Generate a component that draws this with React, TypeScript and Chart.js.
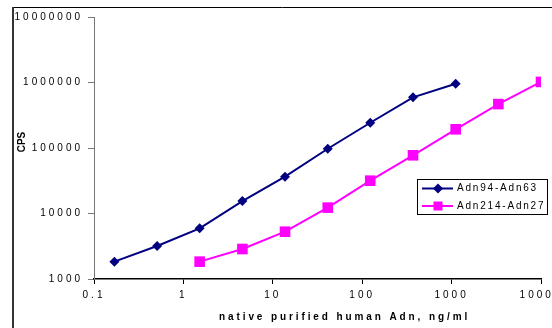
import React, { useEffect, useRef } from 'react';
import { Chart, registerables } from 'chart.js';

Chart.register(...registerables);

const seriesLabels = ['Adn94-Adn63', 'Adn214-Adn27'];
const concentrations94 = [0.169, 0.508, 1.52, 4.57, 13.7, 41.2, 123, 370, 1111];
const cps94 = [1840, 3190, 5940, 15500, 36500, 97500, 243000, 594000, 959000];
const concentrations214 = [1.52, 4.57, 13.7, 41.2, 123, 370, 1111, 3333, 10000];
const cps214 = [1840, 2870, 5270, 12300, 31700, 77400, 193000, 468000, 1020000];
const xTicks = [0.1, 1, 10, 100, 1000, 10000];
const yTicks = [1000, 10000, 100000, 1000000, 10000000];
const xTitle = 'native purified human Adn, ng/ml';
const yTitle = 'CPS';
const seriesColors = ['#000080', '#FF00FF'];

const FONT = "'Liberation Sans', Arial, sans-serif";

function drawMarker(ctx: CanvasRenderingContext2D, kind: number, x: number, y: number) {
  ctx.fillStyle = seriesColors[kind];
  ctx.beginPath();
  if (kind === 0) {
    const r = 5;
    ctx.moveTo(x, y - r);
    ctx.lineTo(x + r, y);
    ctx.lineTo(x, y + r);
    ctx.lineTo(x - r, y);
    ctx.closePath();
  } else {
    const s = 4.5;
    ctx.rect(x - s, y - s, 2 * s, 2 * s);
  }
  ctx.fill();
}

const decorPlugin = {
  id: 'decor',
  beforeDraw(chart: any) {
    const ctx = chart.ctx as any;
    ctx.letterSpacing = '3px';
  },
  afterDraw(chart: any) {
    const ctx = chart.ctx as any;
    ctx.save();
    // outer frame
    ctx.letterSpacing = '0px';
    ctx.strokeStyle = '#000';
    ctx.lineWidth = 1;
    ctx.beginPath();
    ctx.moveTo(12, 7.5);
    ctx.lineTo(560, 7.5);
    ctx.stroke();
    ctx.strokeStyle = '#333';
    ctx.lineWidth = 2;
    ctx.beginPath();
    ctx.moveTo(13, 7);
    ctx.lineTo(13, 340);
    ctx.stroke();

    // y title
    ctx.save();
    ctx.translate(22, 142);
    ctx.rotate(-Math.PI / 2);
    ctx.font = `bold 10px ${FONT}`;
    ctx.fillStyle = '#000';
    ctx.textAlign = 'center';
    ctx.textBaseline = 'middle';
    ctx.fillText(yTitle, 0, 0);
    ctx.restore();

    // x title
    ctx.letterSpacing = '2.9px';
    ctx.font = `bold 10px ${FONT}`;
    ctx.fillStyle = '#000';
    ctx.textAlign = 'left';
    ctx.textBaseline = 'middle';
    ctx.fillText(xTitle, 219, 317);

    // legend
    ctx.letterSpacing = '0px';
    ctx.strokeStyle = '#000';
    ctx.lineWidth = 1;
    ctx.fillStyle = '#fff';
    ctx.fillRect(417.5, 179.5, 130, 35);
    ctx.strokeRect(417.5, 179.5, 130, 35);
    const rows = [188.5, 206];
    seriesLabels.forEach((label, i) => {
      const y = rows[i];
      ctx.strokeStyle = seriesColors[i];
      ctx.lineWidth = 2;
      ctx.beginPath();
      ctx.moveTo(422, y);
      ctx.lineTo(453, y);
      ctx.stroke();
      drawMarker(ctx, i, 438, y);
      ctx.letterSpacing = '1.8px';
      ctx.font = `10px ${FONT}`;
      ctx.fillStyle = '#000';
      ctx.textAlign = 'left';
      ctx.textBaseline = 'middle';
      ctx.fillText(label, 457, y);
      ctx.letterSpacing = '0px';
    });
    ctx.restore();
  },
};

function fmt(v: number) {
  return v < 1 ? String(v) : String(Math.round(v));
}

export default function App() {
  const ref = useRef<HTMLCanvasElement | null>(null);
  useEffect(() => {
    if (!ref.current) return;
    const chart = new Chart(ref.current, {
      type: 'line',
      data: {
        datasets: [
          {
            label: seriesLabels[0],
            data: concentrations94.map((x, i) => ({ x, y: cps94[i] })),
            borderColor: seriesColors[0],
            backgroundColor: seriesColors[0],
            borderWidth: 2,
            pointStyle: 'rectRot',
            pointRadius: 5,
            pointBorderWidth: 0,
            tension: 0,
          },
          {
            label: seriesLabels[1],
            data: concentrations214.map((x, i) => ({ x, y: cps214[i] })),
            borderColor: seriesColors[1],
            backgroundColor: seriesColors[1],
            borderWidth: 2,
            pointStyle: 'rect',
            pointRadius: 7.5,
            pointBorderWidth: 0,
            tension: 0,
          },
        ],
      },
      options: {
        animation: false,
        responsive: false,
        layout: { padding: { top: 17, right: 11, left: 0, bottom: 0 }, autoPadding: false } as any,
        plugins: { legend: { display: false }, title: { display: false }, tooltip: { enabled: false } },
        scales: {
          x: {
            type: 'logarithmic',
            min: 0.1,
            max: 10000,
            afterBuildTicks: (s: any) => { s.ticks = xTicks.map((value) => ({ value })); },
            afterFit: (s: any) => { s.height = 49; s.paddingLeft = 0; s.paddingRight = 0; },
            ticks: {
              autoSkip: false,
              maxRotation: 0,
              padding: 5,
              color: '#000',
              font: { family: FONT, size: 10 },
              callback: (v: any) => fmt(Number(v)),
            },
            grid: { display: true, drawOnChartArea: false, drawTicks: true, tickLength: 5, color: '#000' },
            border: { display: true, color: '#000', width: 1.5 },
          },
          y: {
            type: 'logarithmic',
            min: 1000,
            max: 10000000,
            afterBuildTicks: (s: any) => { s.ticks = yTicks.map((value) => ({ value })); },
            afterFit: (s: any) => { s.width = 94; s.paddingTop = 0; s.paddingBottom = 0; },
            ticks: {
              autoSkip: false,
              padding: 5,
              color: '#000',
              font: { family: FONT, size: 10 },
              callback: (v: any) => fmt(Number(v)),
            },
            grid: { display: true, drawOnChartArea: false, drawTicks: true, tickLength: 6, color: '#777' },
            border: { display: true, color: '#777', width: 1 },
          },
        },
      },
      plugins: [decorPlugin],
    } as any);
    return () => chart.destroy();
  }, []);
  return (
    <div style={{ position: 'fixed', left: 0, top: 0, width: 552, height: 328, background: '#fff' }}>
      <canvas ref={ref} width={552} height={328} style={{ width: 552, height: 328, display: 'block' }} />
    </div>
  );
}
